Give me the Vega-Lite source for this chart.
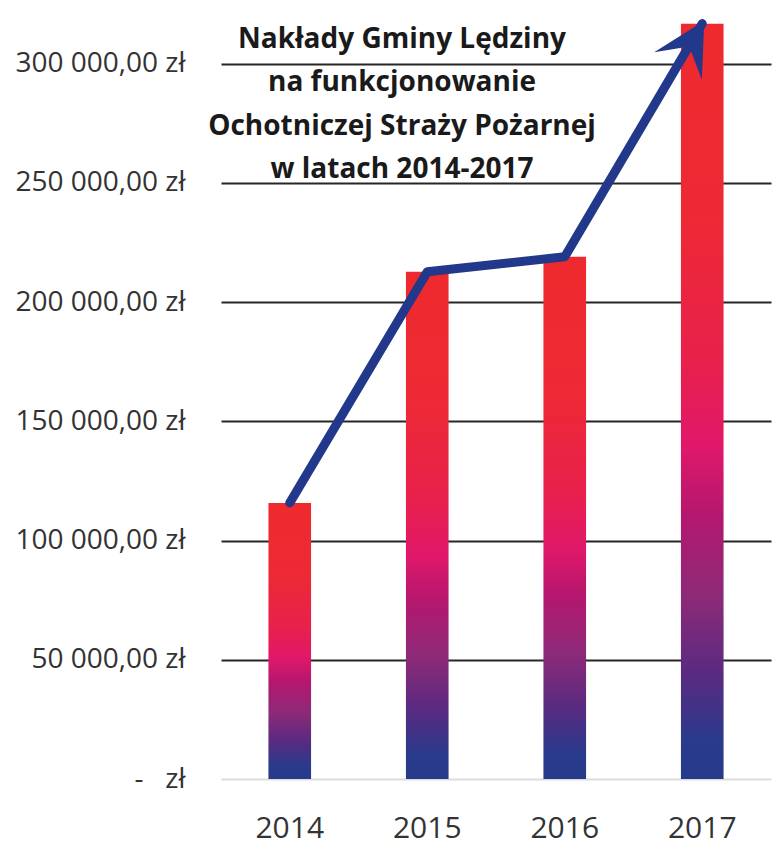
{
  "$schema": "https://vega.github.io/schema/vega-lite/v6.json",
  "width": 550,
  "height": 763,
  "autosize": {"type": "none"},
  "padding": {"left": 221, "right": 2, "top": 16, "bottom": 69},
  "background": "white",
  "title": {
    "text": ["Nakłady Gminy Lędziny", "na funkcjonowanie", "Ochotniczej Straży Pożarnej", "w latach 2014-2017"],
    "font": "Open Sans",
    "fontSize": 28,
    "fontWeight": "bold",
    "color": "#1a1a1a",
    "anchor": "middle",
    "frame": "group",
    "orient": "top",
    "offset": -30,
    "baseline": "alphabetic",
    "lineHeight": 43.5,
    "dx": -94,
    "dy": 160
  },
  "data": {
    "values": [
      {"rok": "2014", "kwota": 115800},
      {"rok": "2015", "kwota": 212700},
      {"rok": "2016", "kwota": 219000},
      {"rok": "2017", "kwota": 316800}
    ]
  },
  "encoding": {
    "x": {
      "field": "rok",
      "type": "nominal",
      "sort": null,
      "scale": {"paddingInner": 0.69, "paddingOuter": 0.345},
      "axis": {
        "title": null,
        "labelAngle": 0,
        "labelFont": "Open Sans",
        "labelFontSize": 30,
        "labelColor": "#333333",
        "labelPadding": 34,
        "ticks": false,
        "domain": false,
        "grid": false
      }
    },
    "y": {
      "field": "kwota",
      "type": "quantitative",
      "scale": {"domain": [0, 320000], "nice": false},
      "axis": {
        "title": null,
        "values": [0, 50000, 100000, 150000, 200000, 250000, 300000],
        "labelExpr": "datum.value === 0 ? '-\u00a0\u00a0\u00a0zł' : format(datum.value / 1000, 'd') + '\u00a0000,00\u00a0zł'",
        "labelFont": "Open Sans",
        "labelFontSize": 28,
        "labelColor": "#333333",
        "labelPadding": 36,
        "ticks": false,
        "domain": false,
        "grid": true,
        "gridWidth": 2,
        "gridColor": {"condition": {"test": "datum.value === 0", "value": "#dcdcdc"}, "value": "#262626"}
      }
    }
  },
  "layer": [
    {
      "mark": {
        "type": "bar",
        "fill": {
          "gradient": "linear",
          "x1": 0, "y1": 0, "x2": 0, "y2": 1,
          "stops": [
            {"offset": 0, "color": "#ee2a2e"},
            {"offset": 0.25, "color": "#ed2a34"},
            {"offset": 0.45, "color": "#e8204c"},
            {"offset": 0.56, "color": "#e0186a"},
            {"offset": 0.65, "color": "#b4176e"},
            {"offset": 0.76, "color": "#8c2a78"},
            {"offset": 0.86, "color": "#5a2a80"},
            {"offset": 0.95, "color": "#2a3a8c"},
            {"offset": 1, "color": "#263a8c"}
          ]
        }
      }
    },
    {
      "mark": {
        "type": "line",
        "stroke": "#22388a",
        "strokeWidth": 9,
        "strokeCap": "round",
        "strokeJoin": "round"
      }
    },
    {
      "transform": [{"filter": "datum.rok === '2017'"}],
      "mark": {
        "type": "point",
        "shape": "M0,0L0.55,1.05L0,0.6L-0.55,1.05Z",
        "size": 10000,
        "angle": 30,
        "filled": true,
        "fill": "#22388a",
        "opacity": 1,
        "strokeWidth": 0,
        "xOffset": 2,
        "yOffset": -3
      }
    }
  ],
  "config": {"view": {"stroke": null}}
}
